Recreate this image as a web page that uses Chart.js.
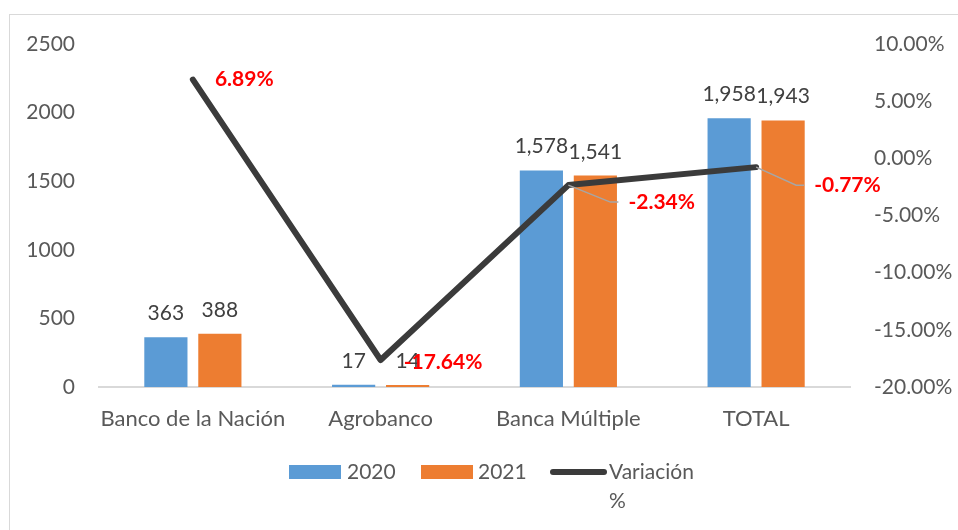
<!DOCTYPE html>
<html lang="es">
  <head>
    <meta charset="UTF-8" />
    <title>Colocaciones 2020 - 2021</title>
    <script src="https://cdn.jsdelivr.net/npm/chart.js"></script>
    <style>
      html, body { margin: 0; padding: 0; background: #fff; }
      #wrap { position: relative; width: 958px; height: 530px; overflow: hidden; }
      #frame { position: absolute; left: 9px; top: 14px; width: 1000px; height: 600px; border: 1px solid #d9d9d9; }
      canvas { position: absolute; left: 0; top: 0; }
    </style>
  </head>
  <body>
    <div id="wrap">
      <div id="frame"></div>
      <canvas id="grafico" width="958" height="530"></canvas>
    </div>

    <script>
      // datos
      const categorias = ["Banco de la Nación", "Agrobanco", "Banca Múltiple", "TOTAL"];
      const valores2020 = [363, 17, 1578, 1958];
      const valores2021 = [388, 14, 1541, 1943];
      const variacion = [6.89, -17.64, -2.34, -0.77];
      const ticksIzq = [0, 500, 1000, 1500, 2000, 2500];
      const ticksDer = [-20, -15, -10, -5, 0, 5, 10];

      const FUENTE = "Lato, 'Noto Sans', sans-serif";
      const GRIS = "#595959";

      // posición de las etiquetas rojas respecto al punto (dx, dy) y si llevan línea guía
      const etiquetasVar = [
        { dx: 22, dy: 0, guia: false },
        { dx: 23, dy: 2, guia: false },
        { dx: 60, dy: 17, guia: true },
        { dx: 58, dy: 18, guia: true },
      ];

      const fmtMiles = (v) => v.toLocaleString("en-US");

      const etiquetas = {
        id: "etiquetas",
        afterDatasetsDraw(chart) {
          const ctx = chart.ctx;
          ctx.save();
          // valores de las barras
          ctx.font = "21px " + FUENTE;
          ctx.fillStyle = "#404040";
          ctx.textAlign = "center";
          ctx.textBaseline = "alphabetic";
          [0, 1].forEach((i) => {
            const meta = chart.getDatasetMeta(i);
            meta.data.forEach((bar, j) => {
              const v = chart.data.datasets[i].data[j];
              ctx.fillText(fmtMiles(v), bar.x, bar.y - 17);
            });
          });
          // variación %
          const metaL = chart.getDatasetMeta(2);
          ctx.font = "bold 21px " + FUENTE;
          ctx.textAlign = "left";
          ctx.textBaseline = "middle";
          metaL.data.forEach((pt, j) => {
            const e = etiquetasVar[j];
            const tx = pt.x + e.dx;
            const ty = pt.y + e.dy;
            if (e.guia) {
              ctx.strokeStyle = "#a6a6a6";
              ctx.lineWidth = 1.5;
              ctx.beginPath();
              ctx.moveTo(pt.x, pt.y);
              ctx.lineTo(tx - 18, ty);
              ctx.lineTo(tx - 10, ty);
              ctx.stroke();
            }
            ctx.fillStyle = "#ff0000";
            ctx.fillText(variacion[j].toFixed(2) + "%", tx, ty);
          });
          ctx.restore();
        },
        afterDraw(chart) {
          // leyenda propia (la etiqueta de la línea va en dos renglones)
          const ctx = chart.ctx;
          const ds = chart.data.datasets;
          ctx.save();
          ctx.font = "21px " + FUENTE;
          ctx.textBaseline = "middle";
          ctx.textAlign = "left";
          const y = 472;
          ctx.fillStyle = ds[0].backgroundColor;
          ctx.fillRect(289, 465, 52, 14);
          ctx.fillStyle = GRIS;
          ctx.fillText(ds[0].label, 347, y);
          ctx.fillStyle = ds[1].backgroundColor;
          ctx.fillRect(421, 465, 52, 14);
          ctx.fillStyle = GRIS;
          ctx.fillText(ds[1].label, 478, y);
          ctx.strokeStyle = ds[2].borderColor;
          ctx.lineWidth = 6;
          ctx.lineCap = "round";
          ctx.beginPath();
          ctx.moveTo(553, y);
          ctx.lineTo(604, y);
          ctx.stroke();
          const partes = ds[2].label.split(" ");
          ctx.fillText(partes[0], 609, y);
          ctx.fillText(partes[1], 609, y + 29);
          ctx.restore();
        },
      };

      new Chart(document.getElementById("grafico"), {
        type: "bar",
        data: {
          labels: categorias,
          datasets: [
            {
              label: "2020",
              data: valores2020,
              backgroundColor: "#5b9bd5",
              yAxisID: "y",
              order: 2,
              categoryPercentage: 0.575,
              barPercentage: 0.8,
            },
            {
              label: "2021",
              data: valores2021,
              backgroundColor: "#ed7d31",
              yAxisID: "y",
              order: 2,
              categoryPercentage: 0.575,
              barPercentage: 0.8,
            },
            {
              type: "line",
              label: "Variación %",
              data: variacion,
              borderColor: "#3b3b3b",
              borderWidth: 6,
              borderCapStyle: "round",
              borderJoinStyle: "round",
              pointRadius: 0,
              tension: 0,
              fill: false,
              yAxisID: "y1",
              order: 0,
            },
          ],
        },
        options: {
          responsive: false,
          animation: false,
          layout: { padding: { top: 44, left: 0, right: 0, bottom: 0 } },
          plugins: {
            legend: { display: false },
            tooltip: { enabled: false },
          },
          scales: {
            x: {
              grid: { display: false, drawTicks: false },
              border: { display: true, color: "#d9d9d9", width: 2 },
              ticks: { color: GRIS, font: { family: FUENTE, size: 22 }, padding: 19, maxRotation: 0, autoSkip: false },
              afterFit(s) { s.height = 143; },
            },
            y: {
              position: "left",
              min: 0,
              max: 2500,
              afterBuildTicks(s) { s.ticks = ticksIzq.map((v) => ({ value: v })); },
              grid: { display: false, drawTicks: false },
              border: { display: false },
              ticks: { color: GRIS, font: { family: FUENTE, size: 21 }, padding: 24, callback: (v) => String(v) },
              afterFit(s) { s.width = 99; },
            },
            y1: {
              position: "right",
              min: -20,
              max: 10,
              afterBuildTicks(s) { s.ticks = ticksDer.map((v) => ({ value: v })); },
              grid: { display: false, drawTicks: false },
              border: { display: false },
              ticks: {
                color: GRIS,
                font: { family: FUENTE, size: 21 },
                padding: 24,
                callback: (v) => v.toFixed(2) + "%",
              },
              afterFit(s) { s.width = 108; },
            },
          },
        },
        plugins: [etiquetas],
      });
    </script>
  </body>
</html>
